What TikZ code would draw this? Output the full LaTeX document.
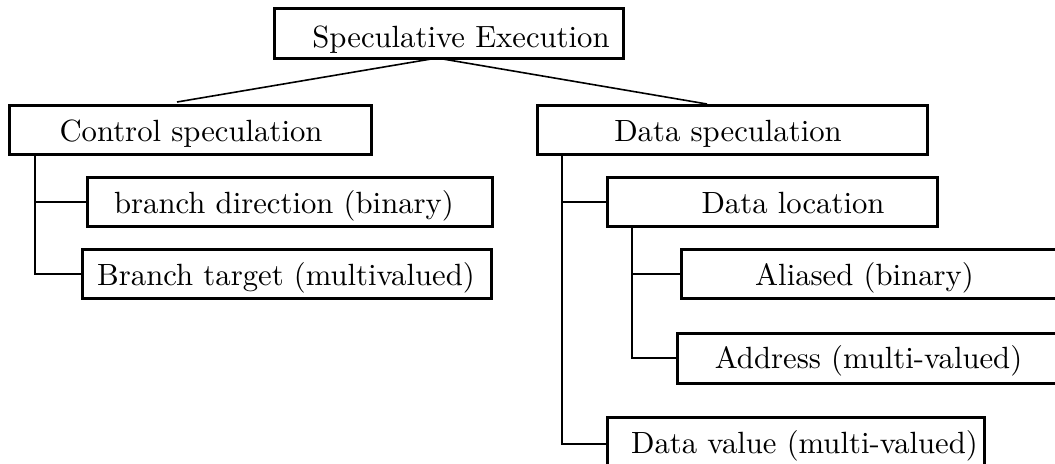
\documentclass[tikz,border=0pt]{standalone}
\usepackage{graphicx}
\usetikzlibrary{calc}
\newcommand{\bigtxt}[1]{\scalebox{1.535}{\fontsize{10}{12}\selectfont #1}}
\begin{document}
\begin{tikzpicture}[x=0.5pt,y=-0.5pt,
  box/.style={draw,line width=1.5pt,inner sep=0pt,outer sep=0pt,rectangle},
  lbl/.style={anchor=base,inner sep=0pt},
  conn/.style={line width=1pt},
  slope/.style={line width=0.8pt}]
\useasboundingbox (0,0) rectangle (1055,463);
\clip (0,0) rectangle (1055,463);
% boxes
\node[box,minimum width=174.5pt,minimum height=25pt] (se) at (448.5,33) {};
\node[box,minimum width=181pt,minimum height=24.5pt] (cs) at (190,129.5) {};
\node[box,minimum width=202.5pt,minimum height=24.5pt] (bd) at (289.5,201.5) {};
\node[box,minimum width=204.5pt,minimum height=24.5pt] (bt) at (286.5,273.5) {};
\node[box,minimum width=195pt,minimum height=24.5pt] (ds) at (732,129.5) {};
\node[box,minimum width=165pt,minimum height=24.5pt] (dl) at (772,201.5) {};
\node[box,minimum width=194.5pt,minimum height=24.5pt] (al) at (875.5,273.5) {};
\node[box,minimum width=196.5pt,minimum height=25pt] (ad) at (873.5,358) {};
\node[box,minimum width=188.5pt,minimum height=26.5pt] (dv) at (795.5,443.5) {};
% labels
\node[lbl] (set) at (461,47) {\bigtxt{Speculative Execution}};
\node[lbl] (cst) at (191,141.7) {\bigtxt{Control speculation}};
\node[lbl] (bdt) at (284,213) {\bigtxt{branch direction (binary)}};
\node[lbl] (btt) at (286,285) {\bigtxt{Branch target (multivalued)}};
\node[lbl] (dst) at (728,141.7) {\bigtxt{Data speculation}};
\node[lbl] (dlt) at (793,213) {\bigtxt{Data location}};
\node[lbl] (alt) at (864.5,285) {\bigtxt{Aliased (binary)}};
\node[lbl] (adt) at (868.5,368) {\bigtxt{Address (multi-valued)}};
\node[lbl] (dvt) at (804.5,453) {\bigtxt{Data value (multi-valued)}};
% top connectors
\coordinate (sej) at (437,58);
\coordinate (lend) at (177,102);
\coordinate (rend) at (707,104);
\draw[slope] (sej) -- (lend);
\draw[slope] (sej) -- (rend);
% control tree
\coordinate (csj) at ($(cs.south west)+(26,0)$);
\draw[conn] (csj) |- (bd.west);
\draw[conn] (csj) |- (bt.west);
% data tree
\coordinate (dsj) at ($(ds.south west)+(25,0)$);
\draw[conn] (dsj) |- (dl.west);
\draw[conn] (dsj) |- (dv.west);
\coordinate (dlj) at ($(dl.south west)+(25,0)$);
\draw[conn] (dlj) |- (al.west);
\draw[conn] (dlj) |- (ad.west);
\end{tikzpicture}
\end{document}
